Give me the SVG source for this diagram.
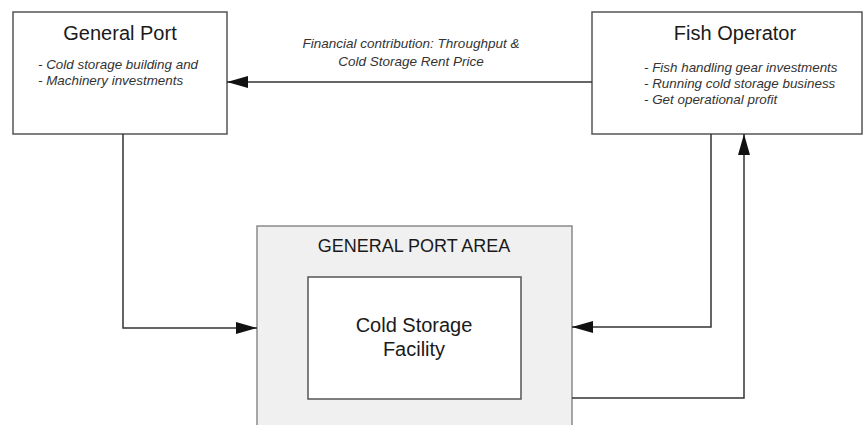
<svg xmlns="http://www.w3.org/2000/svg" width="864" height="425" viewBox="0 0 864 425">
  <style>
    .box { fill: #ffffff; stroke: #555555; stroke-width: 1.5; }
    .area { fill: #f0f0f0; stroke: #8a8a8a; stroke-width: 1.5; }
    .title { font-family: "Liberation Sans", Arial, sans-serif; font-size: 20px; fill: #1a1a1a; text-anchor: middle; }
    .item { font-family: "Liberation Sans", Arial, sans-serif; font-size: 13.4px; font-style: italic; fill: #333333; }
    .label { font-family: "Liberation Sans", Arial, sans-serif; font-size: 13.5px; font-style: italic; fill: #333333; text-anchor: middle; }
    .area-title { font-family: "Liberation Sans", Arial, sans-serif; font-size: 18px; fill: #1a1a1a; text-anchor: middle; }
    .link { fill: none; stroke: #333333; stroke-width: 1.5; marker-end: url(#arrow); }
  </style>
  <defs>
    <marker id="arrow" markerWidth="21" markerHeight="12" refX="21" refY="6" orient="auto" markerUnits="userSpaceOnUse">
      <path d="M0,0 L21,6 L0,12 Z" fill="#111111"/>
    </marker>
  </defs>

  <rect width="864" height="425" fill="#ffffff"/>

  <g id="general-port">
    <rect class="box" x="13" y="12" width="214" height="122"/>
    <text class="title" x="120" y="40">General Port</text>
    <text class="item" x="38" y="69">- Cold storage building and</text>
    <text class="item" x="38" y="85">- Machinery investments</text>
  </g>

  <g id="fish-operator">
    <rect class="box" x="592" y="12" width="270" height="122"/>
    <text class="title" x="735" y="40">Fish Operator</text>
    <text class="item" x="644" y="72">- Fish handling gear investments</text>
    <text class="item" x="644" y="88">- Running cold storage business</text>
    <text class="item" x="644" y="104">- Get operational profit</text>
  </g>

  <g id="general-port-area">
    <rect class="area" x="257" y="226" width="315" height="210"/>
    <text class="area-title" x="414" y="252">GENERAL PORT AREA</text>
  </g>

  <g id="cold-storage-facility">
    <rect class="box" x="308" y="277" width="213" height="122"/>
    <text class="title" x="414" y="332">Cold Storage</text>
    <text class="title" x="414" y="356">Facility</text>
  </g>

  <g id="connectors">
    <path class="link" d="M592,82 L227,82"/>
    <text class="label" x="411" y="48">Financial contribution: Throughput &amp;</text>
    <text class="label" x="411" y="66">Cold Storage Rent Price</text>
    <path class="link" d="M123,134 L123,328 L257,328"/>
    <path class="link" d="M711,134 L711,327 L572,327"/>
    <path class="link" d="M572,398 L744,398 L744,134"/>
  </g>
</svg>
